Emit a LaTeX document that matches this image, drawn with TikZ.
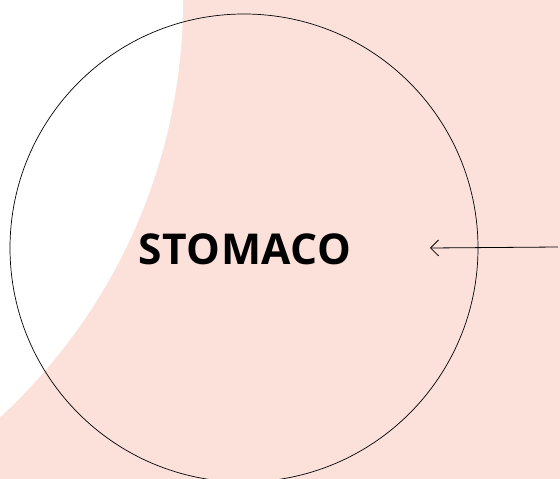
\documentclass[tikz,border=0pt]{standalone}
\usepackage{fontspec}
\setmainfont{Open Sans}
\usetikzlibrary{arrows.meta}
\definecolor{blush}{RGB}{252,225,219}
\tikzset{
  organ/.style={draw=black, line width=0.7pt, circle, minimum size=468pt, inner sep=0pt},
  organlabel/.style={font=\fontsize{42.5}{42.5}\selectfont\bfseries\addfontfeature{LetterSpace=1}, anchor=base, inner sep=0pt},
  pointer/.style={draw=black, line width=0.8pt, -{Straight Barb[length=8pt,width=16pt,line width=0.8pt]}}
}
\begin{document}
\begin{tikzpicture}[x=1pt,y=-1pt]
  \useasboundingbox (0,0) rectangle (560,479);
  % background: pink field with a white curved cut-out at the upper left
  \fill[blush] (0,0) rectangle (560,479);
  \begin{scope}
    \clip (0,0) rectangle (560,479);
    \fill[white] (-384,0) circle (567);
  \end{scope}
  % stomach outline and label
  \node[organ] (stomach) at (244,248) {};
  \node[organlabel] (name) at (245,264) {STOMACO};
  % pointer arrow coming in from the right edge
  \coordinate (src) at (558,247);
  \coordinate (tip) at (430,248);
  \draw[pointer] (src) -- (tip);
\end{tikzpicture}
\end{document}
